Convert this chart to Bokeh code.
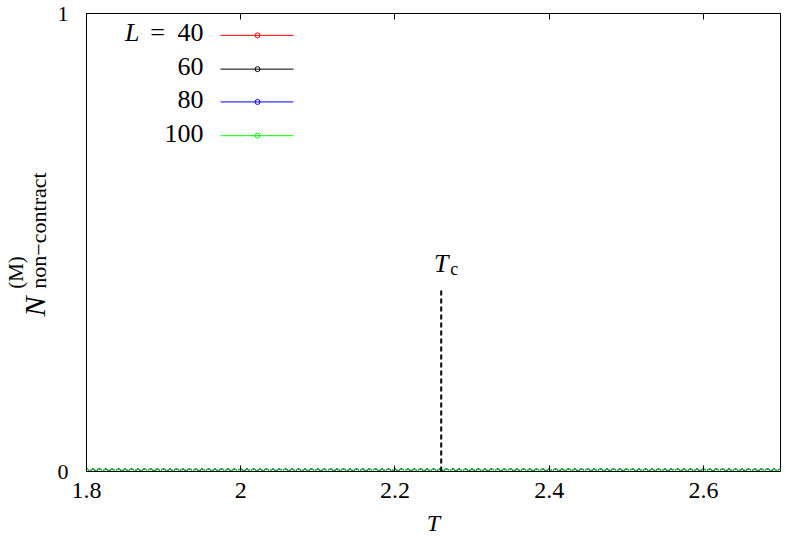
from math import pi
from bokeh.plotting import figure
from bokeh.layouts import row
from bokeh.models import Range1d, FixedTicker, LinearAxis, Label
from bokeh.embed import file_html
from bokeh.resources import INLINE

# ---------------- data ----------------
T = [
    1.8, 1.8083, 1.8167, 1.825, 1.8333, 1.8417, 1.85, 1.8583, 1.8667, 1.875, 1.8833, 1.8917,
    1.9, 1.9083, 1.9167, 1.925, 1.9333, 1.9417, 1.95, 1.9583, 1.9667, 1.975, 1.9833, 1.9917,
    2.0, 2.0083, 2.0167, 2.025, 2.0333, 2.0417, 2.05, 2.0583, 2.0667, 2.075, 2.0833, 2.0917,
    2.1, 2.1083, 2.1167, 2.125, 2.1333, 2.1417, 2.15, 2.1583, 2.1667, 2.175, 2.1833, 2.1917,
    2.2, 2.2083, 2.2167, 2.225, 2.2333, 2.2417, 2.25, 2.2583, 2.2667, 2.275, 2.2833, 2.2917,
    2.3, 2.3083, 2.3167, 2.325, 2.3333, 2.3417, 2.35, 2.3583, 2.3667, 2.375, 2.3833, 2.3917,
    2.4, 2.4083, 2.4167, 2.425, 2.4333, 2.4417, 2.45, 2.4583, 2.4667, 2.475, 2.4833, 2.4917,
    2.5, 2.5083, 2.5167, 2.525, 2.5333, 2.5417, 2.55, 2.5583, 2.5667, 2.575, 2.5833, 2.5917,
    2.6, 2.6083, 2.6167, 2.625, 2.6333, 2.6417, 2.65, 2.6583, 2.6667, 2.675, 2.6833, 2.6917,
    2.7,
]
# every series reads 0 at every temperature
N_L40 = [0.0] * len(T)
N_L60 = [0.0] * len(T)
N_L80 = [0.0] * len(T)
N_L100 = [0.0] * len(T)

L_labels = ["40", "60", "80", "100"]
series = [N_L40, N_L60, N_L80, N_L100]
colors = ["#ff0000", "#000000", "#0000ff", "#00ff00"]

Tc = 2.26
Tc_line_top = 0.395

x_ticks = [1.8, 2.0, 2.2, 2.4, 2.6]
x_tick_labels = {1.8: "1.8", 2.0: "2", 2.2: "2.2", 2.4: "2.4", 2.6: "2.6"}
y_ticks = [0, 1]
y_tick_labels = {0: "0", 1: "1"}

X0, X1, Y0, Y1 = 1.8, 2.7, 0.0, 1.0

# ---------------- layout (picture pixels) ----------------
H = 538
WL = 52                       # strip holding the y-axis title
W = 781 - WL                  # main figure
FL = 86                       # frame left edge in the picture
ML, MR, MT, MB = FL - WL, 1, 13, 64
FW, FH = W - ML - MR, H - MT - MB
FB = MT + FH                  # frame bottom in the picture
FONT = "Liberation Serif"
TXT_SHIFT = 8                 # text baseline correction (px)


def sx(px):  # picture x -> frame screen x
    return px - FL


def sy(py):  # picture y -> frame screen y
    return FB - py


def dx(px):  # picture x -> data x
    return X0 + sx(px) / FW * (X1 - X0)


def dy(py):  # picture y -> data y
    return Y0 + sy(py) / FH * (Y1 - Y0)


p = figure(width=W, height=H, output_backend="svg", toolbar_location=None,
           x_range=Range1d(X0, X1), y_range=Range1d(Y0, Y1),
           min_border_left=ML, min_border_right=MR, min_border_top=MT,
           min_border_bottom=MB)
p.xgrid.visible = False
p.ygrid.visible = False
p.outline_line_color = "black"
p.outline_line_alpha = 1.0
p.background_fill_color = "white"

for ax in p.xaxis:
    ax.ticker = FixedTicker(ticks=x_ticks)
    ax.major_label_overrides = x_tick_labels
for ax in p.yaxis:
    ax.ticker = FixedTicker(ticks=y_ticks)
    ax.major_label_overrides = y_tick_labels
for ax in list(p.xaxis) + list(p.yaxis):
    ax.minor_tick_line_color = None
    ax.major_tick_in = 6
    ax.major_tick_out = 0
    ax.axis_line_color = "black"
    ax.major_tick_line_color = "black"
    ax.major_label_text_font = FONT
    ax.major_label_text_font_size = "24px"
    ax.major_label_text_color = "black"
p.yaxis.major_label_text_font_size = "22px"
p.xaxis.major_label_standoff = 11
p.yaxis.major_label_standoff = 18
p.xaxis.axis_label = "T"
p.xaxis.axis_label_text_font = FONT
p.xaxis.axis_label_text_font_style = "italic"
p.xaxis.axis_label_text_font_size = "24px"
p.xaxis.axis_label_text_color = "black"
p.xaxis.axis_label_standoff = 9

top = LinearAxis(ticker=FixedTicker(ticks=x_ticks), major_tick_in=6, major_tick_out=0,
                 minor_tick_line_color=None, major_label_text_font_size="1px",
                 major_label_text_color=None, major_label_standoff=0,
                 axis_line_color="black")
p.add_layout(top, "above")

# ---------------- data series ----------------
for vals, c in zip(series, colors):
    p.line(T, vals, line_color=c, line_width=1)
    p.scatter(T, vals, marker="circle", size=5, line_color=c, fill_color=None, line_width=1)

# T_c marker
p.segment(x0=[Tc], y0=[0.0], x1=[Tc], y1=[Tc_line_top], line_color="black",
          line_width=2, line_dash="5 3")
p.add_layout(Label(x=Tc, y=sy(274 - TXT_SHIFT), x_units="data", y_units="screen",
                   text="T", text_font=FONT, text_font_style="italic", text_color="black",
                   text_font_size="26px", text_align="center", text_baseline="alphabetic"))
p.add_layout(Label(x=Tc, y=sy(279 - TXT_SHIFT), x_units="data", y_units="screen", x_offset=9,
                   text="c", text_font=FONT, text_font_size="18px", text_color="black",
                   text_align="left", text_baseline="alphabetic"))

# ---------------- legend ----------------
leg_rows = [35, 69, 102, 136]
for i, (lab, c) in enumerate(zip(L_labels, colors)):
    yr = dy(leg_rows[i])
    p.segment(x0=[dx(220)], y0=[yr], x1=[dx(293)], y1=[yr], line_color=c, line_width=1)
    p.scatter([dx(257)], [yr], marker="circle", size=5, line_color=c, fill_color=None,
              line_width=1)
    p.add_layout(Label(x=sx(203), y=sy(leg_rows[i] + 8 - TXT_SHIFT), x_units="screen",
                       y_units="screen", text=lab, text_font=FONT, text_font_size="26px",
                       text_color="black", text_align="right", text_baseline="alphabetic"))
p.add_layout(Label(x=sx(157), y=sy(leg_rows[0] + 8 - TXT_SHIFT), x_units="screen",
                   y_units="screen", text="=", text_font=FONT, text_font_size="26px",
                   text_color="black", text_align="center", text_baseline="alphabetic"))
p.add_layout(Label(x=sx(139), y=sy(leg_rows[0] + 8 - TXT_SHIFT), x_units="screen",
                   y_units="screen", text="L", text_font=FONT, text_font_style="italic",
                   text_font_size="26px", text_color="black", text_align="right",
                   text_baseline="alphabetic"))

# ---------------- y axis title strip ----------------
# (its frame is aligned with the main frame: spans picture y MT..FB, x 0..WL)
q = figure(width=WL, height=H, output_backend="svg", toolbar_location=None,
           x_range=Range1d(0, WL), y_range=Range1d(0, H),
           x_axis_location=None, y_axis_location=None,
           min_border_left=0, min_border_right=0, min_border_top=MT,
           min_border_bottom=MB)
q.outline_line_color = None
q.grid.visible = False
# centre positions of each piece, in picture pixels
ylab_parts = [
    ("N", 34, 309, "30px", "italic"),
    ("(M)", 15, 275, "21px", "normal"),
    ("non\u2212contract", 38, 233, "22px", "normal"),
]
for txt, cx, cy, fs, style in ylab_parts:
    q.add_layout(Label(x=cx, y=FB - cy, x_units="screen", y_units="screen",
                       angle=pi / 2, text=txt, text_font=FONT, text_font_style=style,
                       text_color="black", text_font_size=fs, text_align="center",
                       text_baseline="middle"))

layout = row(q, p, spacing=0)
open("out.html", "w").write(file_html(layout, INLINE))
